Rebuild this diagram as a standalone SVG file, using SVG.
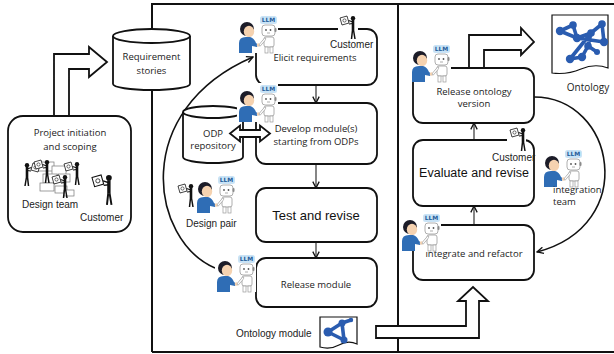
<svg xmlns="http://www.w3.org/2000/svg" width="614" height="354" viewBox="0 0 614 354">
  <style>
    .frame { fill: none; stroke: #111; stroke-width: 2; }
    .box { fill: #fff; stroke: #111; stroke-width: 1.8; }
    .blk { fill: #fff; stroke: #111; stroke-width: 1.8; stroke-linejoin: miter; }
    .flow { fill: none; stroke: #222; stroke-width: 1.1; }
    .curve { fill: none; stroke: #111; stroke-width: 1.6; }
    .t { font-family: "Open Sans", "Noto Sans", sans-serif; font-size: 9.5px; fill: #222; text-anchor: middle; }
    .s { font-family: "Liberation Sans", Arial, sans-serif; font-size: 10px; fill: #222; }
    .big { font-family: "Liberation Sans", Arial, sans-serif; font-size: 13px; fill: #111; text-anchor: middle; }
    .llm-bg { fill: #c9e3f6; }
    .llm { font-family: "DejaVu Sans", sans-serif; font-size: 6px; font-weight: bold; fill: #1f5c99; text-anchor: middle; }
    .net-e { stroke: #2a5cb0; stroke-width: 3.6; fill: none; stroke-linecap: round; stroke-linejoin: round; }
    .net-n { fill: #2a5cb0; }
    .paper { fill: #fff; stroke: #777; stroke-width: 0.7; }
  </style>
  <defs>
    <marker id="head" viewBox="0 0 10 10" refX="9" refY="5" markerWidth="8" markerHeight="8" markerUnits="userSpaceOnUse" orient="auto">
      <path d="M1,1 L9,5 L1,9" fill="none" stroke="#111" stroke-width="1.6"/>
    </marker>
    <!-- person shaking hands with a small robot; origin = top-left of the LLM tag -->
    <g id="pair">
      <rect x="-23" y="-2" width="41" height="39" fill="#fff"/>
      <circle cx="-13" cy="13" r="7" fill="#1c1c28"/>
      <ellipse cx="-11" cy="15.5" rx="5.2" ry="5.8" fill="#f5d2b0"/>
      <path d="M-21,37 L-21,27 Q-21,21 -14,21 L-10,21 Q-6,22 -4,27 L-2,28.5 L-3,31 L-8,30 L-8,37 Z" fill="#2f6db5"/>
      <circle cx="-1.5" cy="29" r="1.8" fill="#f5d2b0"/>
      <rect x="2" y="9" width="13" height="11" rx="3" fill="#fff" stroke="#9a9a9a" stroke-width="0.8"/>
      <circle cx="6" cy="14" r="0.9" fill="#555"/>
      <circle cx="10.5" cy="14" r="0.9" fill="#555"/>
      <path d="M7,17 H10" stroke="#777" stroke-width="0.6"/>
      <rect x="14.5" y="12" width="2" height="4" rx="1" fill="#8a8a8a"/>
      <rect x="4" y="21" width="10" height="10" rx="2" fill="#fff" stroke="#9a9a9a" stroke-width="0.8"/>
      <path d="M5,23 L0,29" stroke="#9a9a9a" stroke-width="2.4" stroke-linecap="round"/>
      <path d="M5,23 L0,29" stroke="#fff" stroke-width="1.2" stroke-linecap="round"/>
      <rect x="5" y="31" width="3" height="6" fill="#fff" stroke="#9a9a9a" stroke-width="0.7"/>
      <rect x="10" y="31" width="3" height="6" fill="#fff" stroke="#9a9a9a" stroke-width="0.7"/>
      <rect x="0" y="0" width="17" height="8" rx="2.5" class="llm-bg"/>
    </g>
    <!-- small black figure holding up a sheet -->
    <g id="holder">
      <polygon points="0,2 7,0 9,7 2,9" fill="#fff" stroke="#111" stroke-width="0.8"/>
      <circle cx="4.5" cy="4.5" r="1.6" fill="none" stroke="#111" stroke-width="0.6"/>
      <circle cx="13" cy="2.2" r="2.2" fill="#111"/>
      <path d="M13,4 L13,14" stroke="#111" stroke-width="2.6"/>
      <path d="M13,6 L8.5,4.5 M13,7.5 L9,8" stroke="#111" stroke-width="1.1"/>
      <path d="M12.5,14 L11.5,23 M13.5,14 L15,23" stroke="#111" stroke-width="1.5"/>
    </g>
  </defs>

  <!-- outer frame and divider -->
  <g id="frame">
    <path class="frame" d="M152,352 V4 H614"/>
    <path class="frame" d="M152,352 H614"/>
    <path class="frame" d="M398,4 V352"/>
  </g>

  <!-- connectors -->
  <g id="connectors">
    <polygon class="blk" points="54,116 54,54 89,54 89,47 107,62 89,77 89,69 69,69 69,116"/>
    <polygon class="blk" points="469,68 469,35 521,35 521,28 534,42 521,55 521,50 484,50 484,68"/>
    <polygon class="blk" points="376,326 466,326 466,301 458,301 473,287 488,301 479,301 479,338 376,338"/>
    <path class="flow" d="M316,85 V103" marker-end="url(#head)"/>
    <path class="flow" d="M316,164 V188" marker-end="url(#head)"/>
    <path class="flow" d="M316,242 V258" marker-end="url(#head)"/>
    <path class="flow" d="M474,225 V206" marker-end="url(#head)"/>
    <path class="flow" d="M474,140 V123" marker-end="url(#head)"/>
    <path class="curve" d="M215,268 C150,240 130,110 253,57" marker-end="url(#head)"/>
    <path class="curve" d="M534,97 C615,97 640,225 537,252" marker-end="url(#head)"/>
  </g>

  <!-- project initiation -->
  <g id="project-initiation">
    <rect class="box" x="8" y="116" width="123" height="116" rx="15"/>
    <text class="t" x="70" y="136">Project initiation</text>
    <text class="t" x="70" y="150">and scoping</text>
    <rect class="paper" x="38" y="162" width="16" height="9"/>
    <rect class="paper" x="52" y="166" width="14" height="9"/>
    <rect class="paper" x="43" y="174" width="14" height="9"/>
    <rect class="paper" x="58" y="174" width="12" height="8"/>
    <rect class="paper" x="40" y="183" width="14" height="8"/>
    <rect class="paper" x="55" y="186" width="12" height="7"/>
    <rect class="paper" x="64" y="190" width="10" height="6"/>
    <use href="#holder" transform="translate(40,163) scale(-1,1)"/>
    <use href="#holder" transform="translate(34,160)"/>
    <use href="#holder" transform="translate(52,175)"/>
    <use href="#holder" transform="translate(64,162)"/>
    <use href="#holder" transform="translate(92,175) scale(1.3)"/>
    <text class="s" x="22" y="208">Design team</text>
    <text class="s" x="80" y="221">Customer</text>
  </g>

  <!-- requirement stories store -->
  <g id="requirement-stories">
    <path class="box" d="M113,36 V84 A38.5,6 0 0 0 190,84 V36"/>
    <ellipse class="box" cx="151.5" cy="36" rx="38.5" ry="7"/>
    <text class="t" x="151.5" y="60">Requirement</text>
    <text class="t" x="151.5" y="74">stories</text>
  </g>

  <!-- ODP repository store -->
  <g id="odp-repository">
    <path class="box" d="M183,112 V157 A30,6 0 0 0 243,157 V112"/>
    <ellipse class="box" cx="213" cy="112" rx="30" ry="6"/>
    <text class="t" x="213" y="137">ODP</text>
    <text class="t" x="213" y="149">repository</text>
  </g>

  <g id="elicit-requirements">
    <rect class="box" x="256" y="29" width="121" height="56" rx="10"/>
    <text class="t" x="315" y="61">Elicit requirements</text>
    <rect x="338" y="15" width="20" height="27" fill="#fff"/>
    <use href="#holder" transform="translate(340,16)"/>
    <text class="s" x="330" y="48">Customer</text>
    <use href="#pair" transform="translate(260,16)"/>
    <text class="llm" x="268.5" y="22.2">LLM</text>
  </g>

  <g id="develop-modules">
    <rect class="box" x="256" y="103" width="121" height="61" rx="10"/>
    <text class="t" x="316" y="132">Develop module(s)</text>
    <text class="t" x="316" y="145">starting from ODPs</text>
    <use href="#pair" transform="translate(260,85)"/>
    <text class="llm" x="268.5" y="91.2">LLM</text>
  </g>

  <!-- two-way link between repository and module development -->
  <g id="odp-link">
    <polygon class="blk" points="230,133.5 240,125.5 240,130 260,130 260,125.5 270,133.5 260,141.5 260,137 240,137 240,141.5"/>
  </g>

  <g id="design-pair">
    <use href="#pair" transform="translate(218,176)"/>
    <text class="llm" x="226.5" y="182.2">LLM</text>
    <use href="#holder" transform="translate(178,184)"/>
    <text class="s" x="186" y="227">Design pair</text>
  </g>

  <g id="test-and-revise">
    <rect class="box" x="256" y="188" width="121" height="54" rx="10"/>
    <text class="big" x="316" y="220">Test and revise</text>
  </g>

  <g id="release-module">
    <rect class="box" x="256" y="258" width="121" height="49" rx="10"/>
    <text class="t" x="316" y="288">Release module</text>
    <use href="#pair" transform="translate(238,255)"/>
    <text class="llm" x="246.5" y="261.2">LLM</text>
  </g>

  <g id="ontology-module">
    <text class="s" x="236" y="337">Ontology module</text>
    <path d="M320,317 H357 V344 Q348,340 339,345 T320,347 Z" fill="#fff" stroke="#111" stroke-width="1.2"/>
    <path class="net-e" d="M328,332 L342,323 L344,340 Z M342,323 L351,320"/>
    <circle class="net-n" cx="328" cy="332" r="4.5"/>
    <circle class="net-n" cx="342" cy="323" r="3.5"/>
    <circle class="net-n" cx="344" cy="340" r="3.5"/>
    <circle class="net-n" cx="351" cy="320" r="2.2"/>
  </g>

  <g id="release-ontology-version">
    <rect class="box" x="413" y="68" width="121" height="55" rx="10"/>
    <text class="t" x="474" y="95">Release ontology</text>
    <text class="t" x="474" y="107">version</text>
    <use href="#pair" transform="translate(433,45)"/>
    <text class="llm" x="441.5" y="51.2">LLM</text>
  </g>

  <g id="ontology">
    <path d="M552,15 H608 V68 Q595,63 581,69 T552,73 Z" fill="#fff" stroke="#111" stroke-width="1.2"/>
    <path class="net-e" d="M560,31 L573,25 L577,38 Z M577,38 L591,33 L602,24 L604,42 Z M591,33 L588,46 L582,57 L570,59 Z M588,46 L597,52"/>
    <circle class="net-n" cx="560" cy="31" r="4.2"/>
    <circle class="net-n" cx="573" cy="25" r="3.8"/>
    <circle class="net-n" cx="577" cy="38" r="4.2"/>
    <circle class="net-n" cx="591" cy="33" r="3.8"/>
    <circle class="net-n" cx="602" cy="24" r="3.8"/>
    <circle class="net-n" cx="604" cy="42" r="4.2"/>
    <circle class="net-n" cx="588" cy="46" r="3.8"/>
    <circle class="net-n" cx="582" cy="57" r="4.2"/>
    <circle class="net-n" cx="570" cy="59" r="4.2"/>
    <circle class="net-n" cx="597" cy="52" r="3"/>
    <text class="t" x="588" y="91" style="font-size:10px">Ontology</text>
  </g>

  <g id="evaluate-and-revise">
    <rect class="box" x="413" y="140" width="121" height="66" rx="10"/>
    <text class="big" x="474" y="177" style="font-size:12.5px">Evaluate and revise</text>
    <rect x="507" y="126" width="19" height="27" fill="#fff"/>
    <use href="#holder" transform="translate(510,128)"/>
    <text class="s" x="492" y="161">Customer</text>
  </g>

  <g id="integration-team">
    <use href="#pair" transform="translate(565,150)"/>
    <text class="llm" x="573.5" y="156.2">LLM</text>
    <text class="t" x="553" y="193" style="text-anchor:start">integration</text>
    <text class="t" x="553" y="205" style="text-anchor:start">team</text>
  </g>

  <g id="integrate-and-refactor">
    <rect class="box" x="413" y="225" width="121" height="55" rx="10"/>
    <text class="t" x="474" y="257">integrate and refactor</text>
    <use href="#pair" transform="translate(423,214)"/>
    <text class="llm" x="431.5" y="220.2">LLM</text>
  </g>
</svg>
